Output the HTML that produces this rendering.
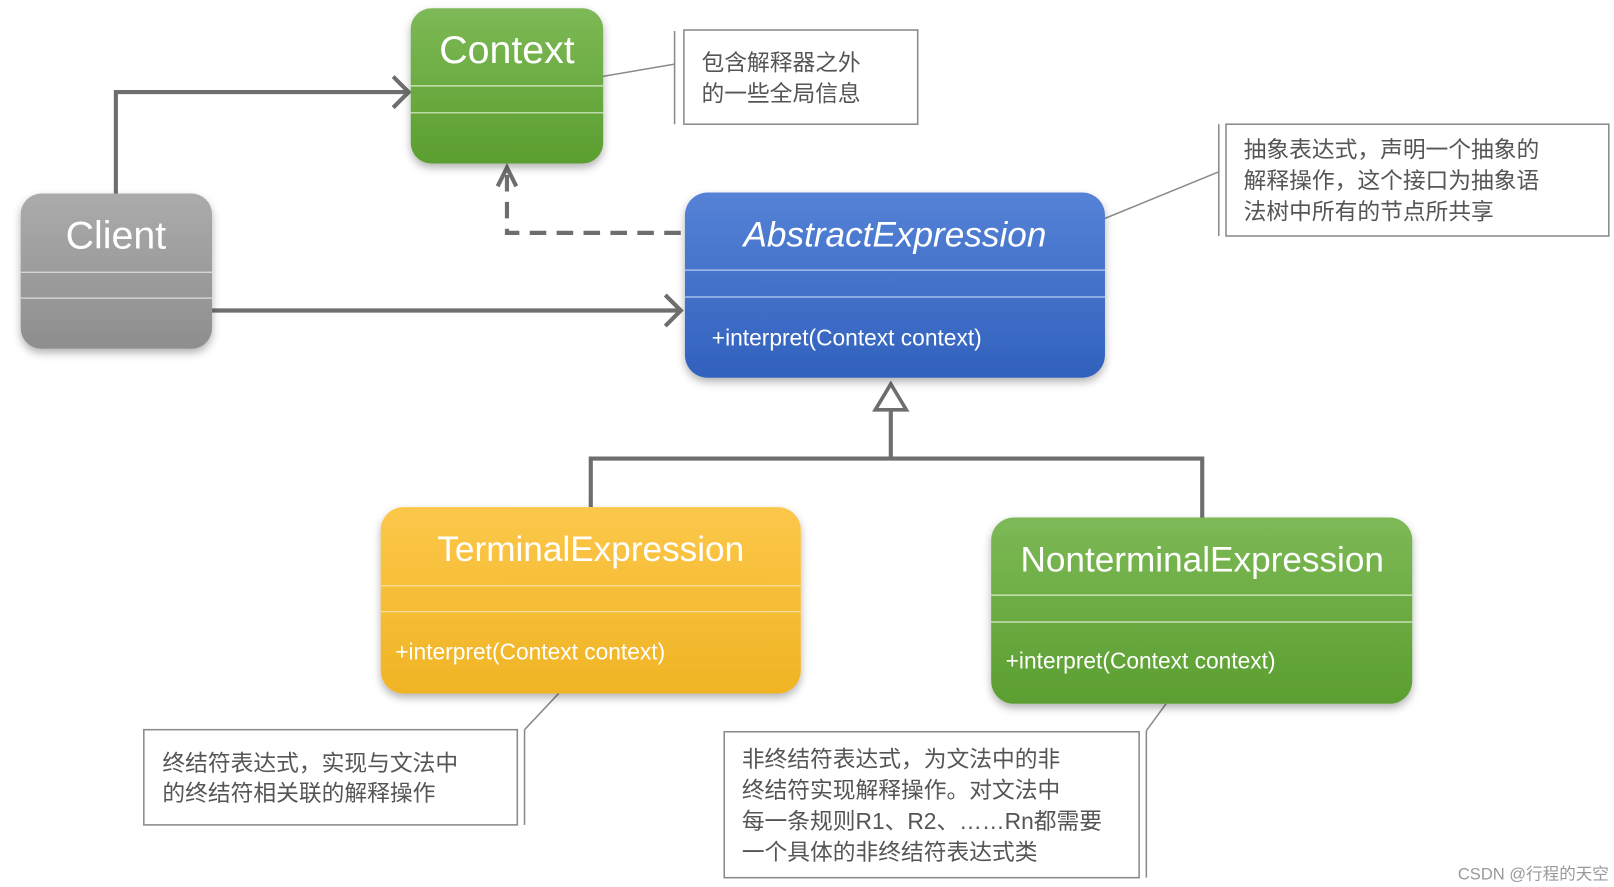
<!DOCTYPE html>
<html><head><meta charset="utf-8"><style>
html,body{margin:0;padding:0;background:#fff;}
svg{display:block;}
text{font-family:"Liberation Sans","Noto Sans CJK SC",sans-serif;}
</style></head><body>
<svg width="1614" height="887" viewBox="0 0 1560 857" preserveAspectRatio="none" xmlns="http://www.w3.org/2000/svg">
<defs>
<linearGradient id="gG" x1="0" y1="0" x2="0" y2="1"><stop offset="0" stop-color="#7db956"/><stop offset="1" stop-color="#5b9e30"/></linearGradient>
<linearGradient id="gC" x1="0" y1="0" x2="0" y2="1"><stop offset="0" stop-color="#ababab"/><stop offset="1" stop-color="#8e8e8e"/></linearGradient>
<linearGradient id="gB" x1="0" y1="0" x2="0" y2="1"><stop offset="0" stop-color="#5582d6"/><stop offset="1" stop-color="#3161bd"/></linearGradient>
<linearGradient id="gY" x1="0" y1="0" x2="0" y2="1"><stop offset="0" stop-color="#fcc74a"/><stop offset="1" stop-color="#f0b424"/></linearGradient>
<filter id="sh" x="-10%" y="-10%" width="120%" height="125%"><feDropShadow dx="0" dy="4" stdDeviation="4" flood-color="#000" flood-opacity="0.3"/></filter>
</defs>
<g fill="none" stroke="#6e6e6e" stroke-width="4">
<polyline points="112,187 112,89 395,89"/>
<polyline points="380,74 395,89 380,104"/>
<polyline points="205,300 658,300"/>
<polyline points="643,285 658,300 643,315"/>
<polyline points="658,225 490,225 490,162" stroke-dasharray="16,10"/>
<polyline points="481,180 490,162 499,180"/>
<polyline points="861,396 861,443"/>
<polyline points="571,490 571,443 1162,443 1162,500"/>
<polygon points="861,371 846,396 876,396" stroke-width="3.5"/>
</g>
<g fill="none" stroke="#8a8a8a" stroke-width="1.5">
<line x1="552" y1="79" x2="652" y2="62"/>
<line x1="652" y1="30" x2="652" y2="120"/>
<rect x="661" y="29" width="226" height="91"/>
<line x1="1068" y1="211" x2="1178" y2="166"/>
<line x1="1178" y1="120" x2="1178" y2="228"/>
<rect x="1185" y="120" width="370" height="108"/>
<line x1="540" y1="670" x2="507" y2="705"/>
<line x1="507" y1="705" x2="507" y2="797"/>
<rect x="139" y="705" width="361" height="92"/>
<line x1="1127" y1="680" x2="1108" y2="706"/>
<line x1="1108" y1="706" x2="1108" y2="848"/>
<rect x="700" y="707" width="401" height="141"/>
</g>
<g filter="url(#sh)">
<rect x="397" y="8" width="186" height="150" rx="20" fill="url(#gG)"/>
<rect x="20" y="187" width="185" height="150" rx="20" fill="url(#gC)"/>
<rect x="662" y="186" width="406" height="179" rx="22" fill="url(#gB)"/>
<rect x="368" y="490" width="406" height="180" rx="22" fill="url(#gY)"/>
<rect x="958" y="500" width="407" height="180" rx="22" fill="url(#gG)"/>
</g>
<g stroke="#d8ecc8" stroke-width="1.2">
<line x1="397" y1="83" x2="583" y2="83"/><line x1="397" y1="109" x2="583" y2="109"/>
<line x1="958" y1="575" x2="1365" y2="575"/><line x1="958" y1="601" x2="1365" y2="601"/>
</g>
<g stroke="#dcdcdc" stroke-width="1.2"><line x1="20" y1="263" x2="205" y2="263"/><line x1="20" y1="288" x2="205" y2="288"/></g>
<g stroke="#b8ccf0" stroke-width="1.2"><line x1="662" y1="261" x2="1068" y2="261"/><line x1="662" y1="287" x2="1068" y2="287"/></g>
<g stroke="#fde2a0" stroke-width="1.2"><line x1="368" y1="566" x2="774" y2="566"/><line x1="368" y1="591" x2="774" y2="591"/></g>
<g fill="#fff" text-anchor="middle">
<text x="490" y="61" font-size="38">Context</text>
<text x="112" y="240" font-size="38">Client</text>
<text x="865" y="238" font-size="34" font-style="italic">AbstractExpression</text>
<text x="571" y="542" font-size="34">TerminalExpression</text>
<text x="1162" y="552" font-size="34">NonterminalExpression</text>
</g>
<g fill="#fff" font-size="22">
<text x="688" y="334">+interpret(Context context)</text>
<text x="382" y="637">+interpret(Context context)</text>
<text x="972" y="646">+interpret(Context context)</text>
</g>
<g fill="#555" font-size="22">
<text x="678" y="68">包含解释器之外</text>
<text x="678" y="98">的一些全局信息</text>
<text x="1202" y="152">抽象表达式，声明一个抽象的</text>
<text x="1202" y="182">解释操作，这个接口为抽象语</text>
<text x="1202" y="212">法树中所有的节点所共享</text>
<text x="157" y="745">终结符表达式，实现与文法中</text>
<text x="157" y="774">的终结符相关联的解释操作</text>
<text x="717" y="741">非终结符表达式，为文法中的非</text>
<text x="717" y="771">终结符实现解释操作。对文法中</text>
<text x="717" y="801">每一条规则R1、R2、……Rn都需要</text>
<text x="717" y="831">一个具体的非终结符表达式类</text>
</g>
<text x="1555" y="850" font-size="16" fill="#999" text-anchor="end">CSDN @行程的天空</text>
</svg>
</body></html>
